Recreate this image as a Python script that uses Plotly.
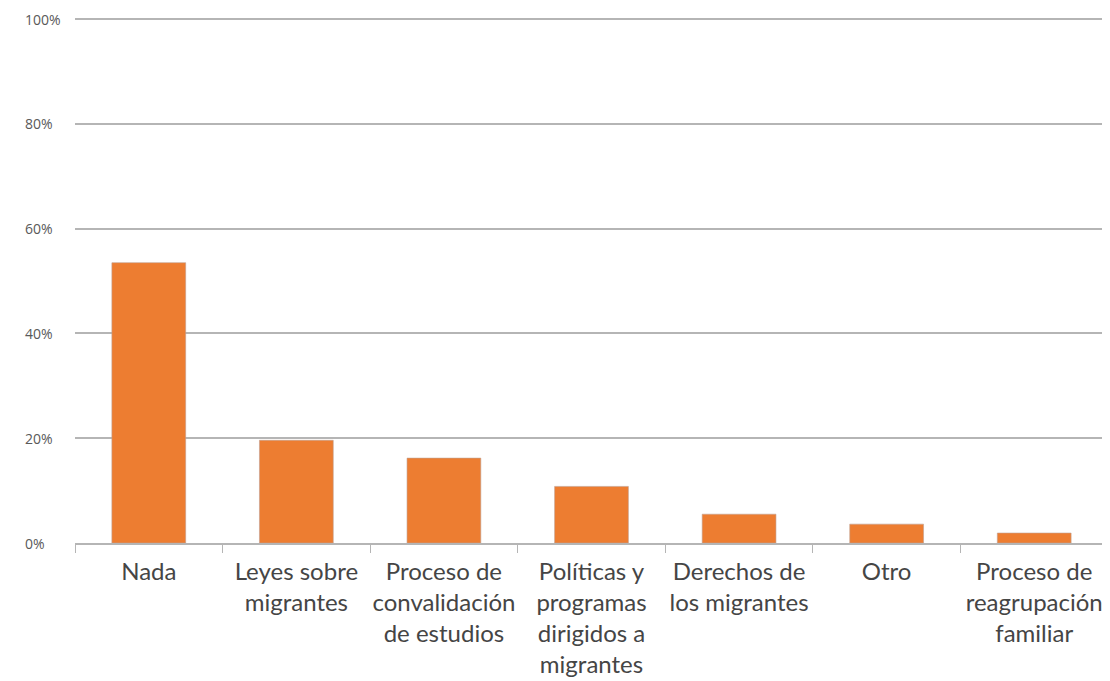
import plotly.graph_objects as go

categories = ["Nada", "Leyes sobre<br>migrantes", "Proceso de<br>convalidación<br>de estudios",
              "Políticas y<br>programas<br>dirigidos a<br>migrantes", "Derechos de<br>los migrantes",
              "Otro", "Proceso de<br>reagrupación<br>familiar"]
values = [0.535, 0.196, 0.162, 0.108, 0.055, 0.036, 0.019]
y_ticks = [0, 0.2, 0.4, 0.6, 0.8, 1.0]
y_tick_labels = ["0%", "20%", "40%", "60%", "80%", "100%"]

fig = go.Figure(go.Bar(
    x=categories, y=values,
    marker=dict(color="#ED7D31", line=dict(color="#c0a090", width=0.6)),
    width=0.5,
))

fig.update_layout(
    width=1110, height=681,
    margin=dict(l=67, r=10, t=10, b=146),
    paper_bgcolor="white", plot_bgcolor="white",
    showlegend=False,
    font=dict(family="Open Sans, sans-serif", color="#404040"),
)
fig.update_yaxes(
    range=[0, 1.002], tickvals=y_ticks,
    showgrid=True, gridcolor="#b5b5b5", gridwidth=2,
    zeroline=False, showline=False, automargin=False,
    showticklabels=False, ticks="",
)
for v, t in zip(y_ticks, y_tick_labels):
    fig.add_annotation(
        x=0, xref="paper", xshift=-52, xanchor="left",
        y=v, yref="y", yanchor="middle",
        text=t, showarrow=False,
        font=dict(size=14, color="#595959", family="Open Sans, sans-serif"),
    )
fig.update_xaxes(
    categoryorder="array", categoryarray=categories,
    showline=True, linecolor="#b5b5b5", linewidth=2, automargin=False,
    ticks="outside", tickson="boundaries", ticklen=8, tickcolor="#b5b5b5", tickwidth=1,
    tickfont=dict(size=24, color="#454545", family="Lato, sans-serif"),
    tickangle=0, ticklabelstandoff=6,
)

fig.write_html("out.html")
